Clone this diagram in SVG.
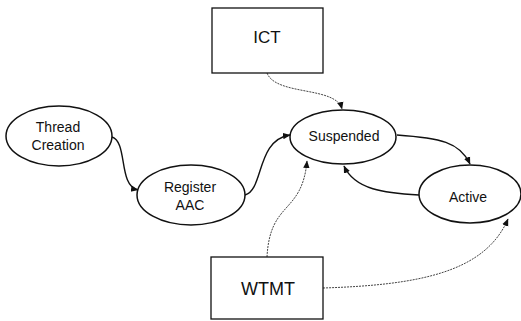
<svg xmlns="http://www.w3.org/2000/svg" width="521" height="321" viewBox="0 0 521 321">
<style>
.node{fill:#fff;stroke:#111;stroke-width:1.5}
.box{fill:#fff;stroke:#111;stroke-width:1.3}
.lbl{font-family:"Liberation Sans",Arial,sans-serif;font-size:14px;fill:#111;text-anchor:middle}
.big{font-size:17px}
.solid{fill:none;stroke:#111;stroke-width:1.4}
.dot{fill:none;stroke:#444;stroke-width:1;stroke-dasharray:2 1}
</style>
<defs>
<marker id="ah" markerWidth="8" markerHeight="8" refX="7" refY="4" orient="auto" markerUnits="userSpaceOnUse">
<path d="M0,0.8 L7.5,4 L0,7.2 Z" fill="#111"/>
</marker>
</defs>
<g id="connectors">
<path class="solid" d="M112,137 C128,142 118,186 138,190" marker-end="url(#ah)"/>
<path class="solid" d="M245,195 C264,190 256,140 290,135" marker-end="url(#ah)"/>
<path class="dot" d="M267,73 C276,96 336,86 342,109" marker-end="url(#ah)"/>
<path class="solid" d="M397,135 C440,138 460,142 470,164" marker-end="url(#ah)"/>
<path class="solid" d="M419,195 C385,193 355,190 344,166" marker-end="url(#ah)"/>
<path class="dot" d="M267,257 C270,200 302,215 307,161" marker-end="url(#ah)"/>
<path class="dot" d="M323,288 C420,285 485,272 508,219" marker-end="url(#ah)"/>
</g>
<g id="ict"><rect class="box" x="212" y="8" width="111" height="65"/><text class="lbl big" x="267" y="43">ICT</text></g>
<g id="thread-creation"><ellipse class="node" cx="59" cy="136" rx="53" ry="30"/><text class="lbl" x="58" y="132">Thread</text><text class="lbl" x="58" y="150">Creation</text></g>
<g id="register-aac"><ellipse class="node" cx="191" cy="195" rx="54" ry="30"/><text class="lbl" x="190" y="192">Register</text><text class="lbl" x="190" y="210">AAC</text></g>
<g id="suspended"><ellipse class="node" cx="343" cy="137" rx="53" ry="27"/><text class="lbl" x="344" y="141">Suspended</text></g>
<g id="active"><ellipse class="node" cx="470" cy="194" rx="51" ry="29"/><text class="lbl" x="468" y="202">Active</text></g>
<g id="wtmt"><rect class="box" x="211" y="257" width="112" height="62"/><text class="lbl" x="268" y="295" style="font-size:18px">WTMT</text></g>
</svg>
